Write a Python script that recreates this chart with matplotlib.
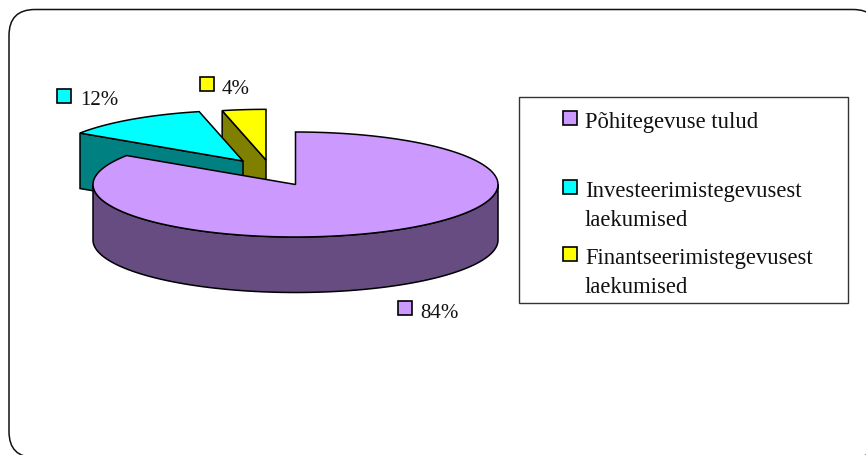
import numpy as np
import matplotlib
matplotlib.use("Agg")
import matplotlib.pyplot as plt
from matplotlib.patches import Polygon, Rectangle, FancyBboxPatch

plt.rcParams['font.family'] = ['Liberation Serif', 'DejaVu Serif']

# data
categories = ['Põhitegevuse tulud', 'Investeerimistegevusest\nlaekumised', 'Finantseerimistegevusest\nlaekumised']
values = [84.3, 12.1, 3.6]
pct_labels = ['84%', '12%', '4%']
top_colors = ['#CC99FF', '#00FFFF', '#FFFF00']
side_colors = ['#664C80', '#008080', '#808000']

# pie geometry, pixels
cx, cy = 295.5, 185.5
rx, ry = 202.5, 52.5
depth = 55.5
# offset of each slice from the centre and its shrink factor
shift = [(0, 0), (-52.5, -23.5), (-29.5, -24.5)]
scale = [1.0, 0.965, 0.965]
lw = 1.1

fig = plt.figure(figsize=(8.66, 4.56), dpi=100)
ax = fig.add_axes([0, 0, 1, 1])
ax.set_xlim(0, 866)
ax.set_ylim(456, 0)
ax.axis('off')


def rim(a0, a1, k, dx, dy):
    # angles clockwise from 12 o'clock, degrees
    a = np.radians(np.linspace(a0, a1, 160))
    return np.column_stack([cx + dx + k * rx * np.sin(a), cy + dy - k * ry * np.cos(a)])


# chart frame, runs off the right and bottom of the picture
ax.add_patch(FancyBboxPatch((9, 10.5), 870, 448, boxstyle='round,pad=0,rounding_size=26',
                            fc='white', ec='#111111', lw=1.1, zorder=0))

# slice angles from the values
edges = np.cumsum([0] + values) / sum(values) * 360

# draw back slices first, biggest slice goes on top
for i in [2, 1, 0]:
    a0, a1 = edges[i], edges[i + 1]
    k, (dx, dy) = scale[i], shift[i]
    apex = np.array([[cx + dx, cy + dy]])
    arc = rim(a0, a1, k, dx, dy)
    if i == 0:
        # outer wall, lower half of the ellipse
        wall = rim(90, 270, k, dx, dy)
        wall_pts = np.vstack([wall, wall[::-1] + [0, depth]])
        ax.add_patch(Polygon(wall_pts, fc=side_colors[i], ec='black', lw=lw, zorder=3))
    else:
        # cut face that looks to the viewer
        p = arc[0]
        face = np.vstack([p, apex, apex + [0, depth], p + [0, depth]])
        ax.add_patch(Polygon(face, fc=side_colors[i], ec='black', lw=lw, zorder=3 - i * 0.5))
    ax.add_patch(Polygon(np.vstack([apex, arc]), fc=top_colors[i], ec='black', lw=lw,
                         joinstyle='miter', zorder=3.2 - i * 0.5 if i else 3.5))

# percent labels with colour keys
label_pos = [(420, 314), (80, 101), (222, 89)]
key_pos = [(398, 301.5), (57, 90), (200, 77.5)]
for i in range(3):
    ax.add_patch(Rectangle(key_pos[i], 14, 14, fc=top_colors[i], ec='black', lw=1.2, zorder=5))
    ax.text(label_pos[i][0], label_pos[i][1], pct_labels[i], fontsize=15, ha='left', va='center',
            color='#111111', zorder=5)

# legend box
ax.add_patch(Rectangle((519, 97.5), 329, 207, fc='white', ec='#333333', lw=1.0, zorder=1))
legend_key_y = [112, 180.5, 247.5]
legend_text_y = [123, 206.5, 273.5]
for i in range(3):
    ax.add_patch(Rectangle((563, legend_key_y[i]), 14, 14, fc=top_colors[i], ec='black', lw=1.2, zorder=5))
    ax.text(585, legend_text_y[i], categories[i], fontsize=16.3, ha='left', va='center',
            linespacing=1.5, color='#111111', zorder=5)

fig.savefig('out.png', dpi=100)
